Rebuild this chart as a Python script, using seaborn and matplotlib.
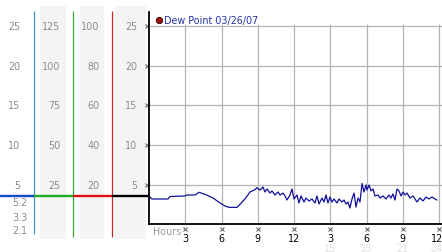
import numpy as np
import pandas as pd
import matplotlib
matplotlib.use("Agg")
import matplotlib.pyplot as plt
import matplotlib.transforms as mtransforms
import seaborn as sns

# ---------------- data ----------------
hours = [0.08, 0.25, 1.57, 1.74, 2.98, 3.14, 3.81, 4.14, 4.63, 5.30, 5.88, 6.29, 6.62, 7.28,
         7.53, 7.94, 8.36, 8.77, 8.94, 9.19, 9.43, 9.60, 9.77, 10.01, 10.18, 10.43, 10.68,
         10.84, 11.09, 11.26, 11.42, 11.67, 11.83, 12.00, 12.25, 12.41, 12.58, 12.83, 12.99,
         13.24, 13.49, 13.74, 13.90, 14.07, 14.32, 14.48, 14.65, 14.81, 14.98, 15.14, 15.31,
         15.56, 15.72, 15.97, 16.14, 16.30, 16.47, 16.63, 16.80, 16.97, 17.13, 17.30, 17.46,
         17.63, 17.79, 17.96, 18.04, 18.21, 18.37, 18.54, 18.70, 18.95, 19.12, 19.37, 19.61,
         19.86, 20.03, 20.19, 20.36, 20.52, 20.69, 20.86, 21.02, 21.19, 21.35, 21.60, 21.85,
         22.18, 22.43, 22.68, 22.92, 23.17, 23.42, 23.67, 23.83]
dew_point = [3.49, 3.24, 3.24, 3.55, 3.62, 3.74, 3.74, 4.08, 3.83, 3.36, 2.74, 2.36, 2.19, 2.19,
             2.57, 3.24, 4.12, 4.41, 4.66, 4.37, 4.75, 4.12, 4.50, 3.99, 4.25, 3.74, 4.12,
             3.74, 3.99, 3.62, 3.11, 3.74, 4.50, 3.24, 3.74, 2.74, 3.62, 2.86, 3.36,
             2.99, 3.24, 2.74, 3.62, 2.61, 3.36, 2.86, 3.74, 2.74, 3.49, 2.86, 3.24,
             2.74, 3.24, 2.86, 3.11, 2.61, 2.86, 2.10, 3.24, 3.99, 2.23, 3.36, 2.86,
             5.19, 4.12, 5.00, 4.37, 5.00, 4.25, 4.50, 3.62, 3.74, 3.36, 3.62, 3.24,
             3.74, 3.36, 3.87, 3.11, 4.50, 4.25, 3.62, 4.12, 3.74, 3.99, 3.36, 3.62,
             2.86, 3.36, 2.99, 3.49, 3.24, 3.49, 3.24, 3.11]
series_label = "Dew Point 03/26/07"
y_levels = [25, 20, 15, 10, 5]
x_ticks = [3, 6, 9, 12, 15, 18, 21, 24]
x_ticklabels = ["3", "6", "9", "12", "3", "6", "9", "12"]
x_faint_ticks = [15, 18, 21, 24]
x_faint_labels = ["15", "18", "21", "24"]
col_labels = [["25", "20", "15", "10", "5"],
              ["125", "100", "75", "50", "25"],
              ["100", "80", "60", "40", "20"],
              ["25", "20", "15", "10", "5"]]
stat_labels = ["5.2", "3.3", "2.1"]
current_value = 3.62

df = pd.DataFrame({"hour": hours, "dew": dew_point})

# ---------------- layout ----------------
W, H = 442, 253
sns.set_style("white")
plt.rcParams["font.family"] = ["DejaVu Sans"]
fig = plt.figure(figsize=(W / 100, H / 100), dpi=100)
FS = 6.9

# overlay in pixel coordinates for the left scale columns
bg = fig.add_axes([0, 0, 1, 1])
bg.set_xlim(0, W)
bg.set_ylim(H, 0)
bg.axis("off")

px_per_unit = 7.95
zero_px = 225.75
ax_left, ax_right, ax_top, ax_bot = 149, 442, 13, 225
ax = fig.add_axes([ax_left / W, (H - ax_bot) / H, (ax_right - ax_left) / W, (ax_bot - ax_top) / H])
ax.set_facecolor("none")
ax.set_ylim((zero_px - ax_bot) / px_per_unit, (zero_px - ax_top) / px_per_unit)
ax.set_xlim(0, 24 * (ax_right - ax_left) / 290)

grid_c = "#b4b4b4"
ax.hlines(y_levels, 0, ax.get_xlim()[1], color=grid_c, lw=0.9, zorder=1)
ax.vlines(x_ticks, ax.get_ylim()[0], 25.25, color=grid_c, lw=0.9, zorder=1)

sns.lineplot(data=df, x="hour", y="dew", ax=ax, color="#10109a", lw=0.9, zorder=3)
ax.set_xlabel("")
ax.set_ylabel("")

for s in ["top", "right"]:
    ax.spines[s].set_visible(False)
for s in ["left", "bottom"]:
    ax.spines[s].set_color("black")
    ax.spines[s].set_linewidth(1.3)
ax.set_yticks([])
ax.set_xticks(x_ticks)
ax.set_xticklabels(x_ticklabels, fontsize=FS, color="black")
ax.tick_params(axis="x", length=0, pad=6.2)
last = ax.get_xticklabels()[-1]
last.set_transform(last.get_transform() +
                   mtransforms.ScaledTranslation(-2.5 / 100, 0, fig.dpi_scale_trans))

# tick markers
trans_xa = mtransforms.blended_transform_factory(ax.transData, ax.transAxes)
ax.plot(x_ticks, [-0.024] * len(x_ticks), ls="none", marker="x", ms=2.2, mew=0.7,
        color="#555555", transform=trans_xa, clip_on=False)
trans_ay = mtransforms.blended_transform_factory(ax.transAxes, ax.transData)
ax.plot([-0.006] * len(y_levels), y_levels, ls="none", marker="x", ms=2.2, mew=0.7,
        color="#555555", transform=trans_ay, clip_on=False)

for t, lab in zip(x_faint_ticks, x_faint_labels):
    dx = -2.5 if lab == x_faint_labels[-1] else 0
    ax.text(t, -0.113, lab, ha="center", va="center", fontsize=FS, color="#e2e2e2",
            clip_on=False,
            transform=trans_xa + mtransforms.ScaledTranslation(dx / 100, 0, fig.dpi_scale_trans))
ax.text(0.012, -0.033, "Hours", transform=ax.transAxes, ha="left", va="center",
        fontsize=FS, color="#999999")

# legend
ax.plot([159], [21], transform=bg.transData, marker="o", ms=4.6, mfc="#9a1010",
        mec="#300000", mew=0.6, ls="none", clip_on=False)
ax.text(164, 21, series_label, transform=bg.transData, ha="left", va="center",
        fontsize=6.9, color="#2233aa")

# left scale columns
for x0, x1 in [(40, 65.5), (80, 104), (115, 146)]:
    bg.fill_between([x0, x1], 7, 240, color="#f4f4f4", lw=0)
trans_l = mtransforms.blended_transform_factory(bg.transData, ax.transData)
label_right = [20.5, 60.5, 99.5, 137.5]
for xr, labs in zip(label_right, col_labels):
    for v, lab in zip(y_levels, labs):
        bg.text(xr, v, lab, transform=trans_l, ha="right", va="center",
                fontsize=FS, color="#8c8c8c")
for yy, lab in zip([203, 218.5, 231], stat_labels):
    bg.text(27.5, yy, lab, ha="right", va="center", fontsize=FS, color="#8c8c8c")

bg.vlines([33.5], 12, 235, color="#3a9ad0", lw=0.9)
bg.vlines([72.5], 12, 238, color="#33aa33", lw=0.9)
bg.vlines([111.5], 12, 238, color="#c82828", lw=0.9)
cur_px = zero_px - current_value * px_per_unit
for (x0, x1), c in zip([(0, 33.5), (33.5, 72.5), (72.5, 111.5), (111.5, 149)],
                       ["#1448d0", "#22aa22", "#e01010", "#000000"]):
    bg.hlines([cur_px], x0, x1, color=c, lw=1.7)

fig.savefig("out.png", dpi=100)
